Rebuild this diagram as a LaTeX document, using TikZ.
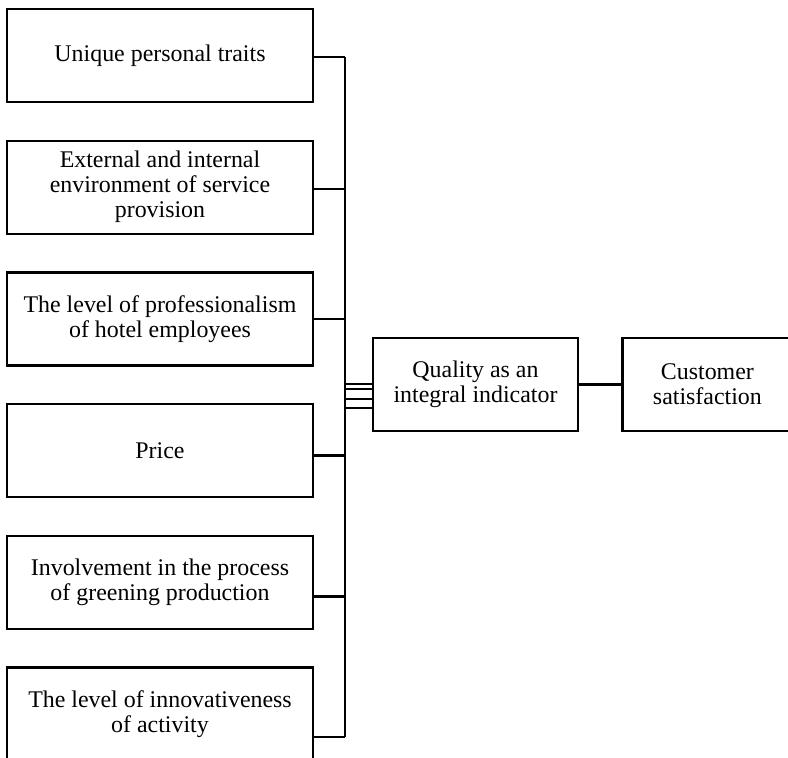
\documentclass[tikz,border=0pt]{standalone}
\usepackage{fontspec}
\setmainfont{Liberation Serif}
\usetikzlibrary{positioning}

\begin{document}
\begin{tikzpicture}[x=1pt, y=-1pt, node distance=36.3pt and 42pt,
  every node/.style = {shape=rectangle, draw, line width=2.4pt, align=center,
    inner sep=0pt, font=\fontsize{23.9}{25}\selectfont},
  factor/.style = {minimum width=306pt, minimum height=93pt},
  link/.style = {line width=2.4pt}]
  \useasboundingbox (0,0) rectangle (788,758);
  \node[factor] (traits) at (160,55.5) {Unique personal traits};
  \node[factor, below=of traits] (environment) {External and internal\\environment of service\\provision};
  \node[factor, below=of environment] (professionalism) {The level of professionalism\\of hotel employees};
  \node[factor, below=of professionalism] (price) {Price};
  \node[factor, below=of price] (greening) {Involvement in the process\\of greening production};
  \node[factor, below=of greening] (innovation) {The level of innovativeness\\of activity};
  \node[minimum width=205pt, minimum height=93pt] (quality) at (475.5,384.5) {Quality as an\\integral indicator};
  \node[minimum width=170pt, minimum height=93pt, right=of quality] (satisfaction) {Customer\\satisfaction};
  \coordinate (bustop) at (345,57);
  \coordinate (busbottom) at (345,737);
  % common bus
  \draw[link] (bustop) -- (busbottom);
  \draw[link] (traits.east |- bustop) -- (bustop);
  \foreach \n/\d in {environment/-1.5, professionalism/0, price/-5, greening/-14, innovation/-23}
    \draw[link] ([yshift=\d pt]\n.east) -- ([yshift=\d pt]\n.east -| bustop);
  \foreach \d in {0.5, -4.5, -14.5, -23.5}
    \draw[link] ([yshift=\d pt]quality.west) -- ([yshift=\d pt]quality.west -| bustop);
  \draw[link] (quality) -- (satisfaction);
\end{tikzpicture}
\end{document}
